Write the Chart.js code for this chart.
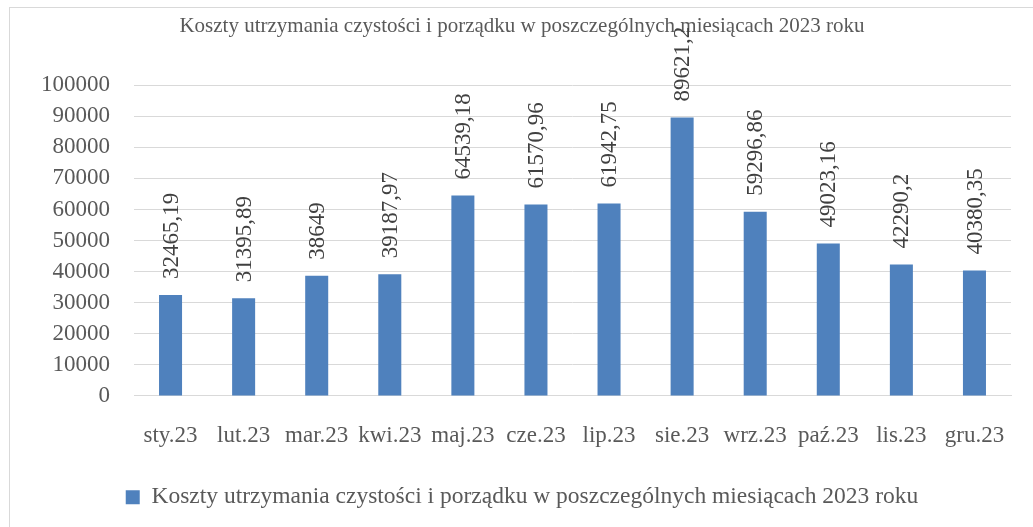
<!DOCTYPE html>
<html>
<head>
<meta charset="utf-8">
<script src="https://cdn.jsdelivr.net/npm/chart.js@4.4.0/dist/chart.umd.min.js"></script>
<style>
  html, body { margin: 0; padding: 0; background: #fff; }
  #wrap { width: 1033px; height: 527px; }
</style>
</head>
<body>
<div id="wrap"><canvas id="myChart"></canvas></div>
<script>
var title = 'Koszty utrzymania czystości i porządku w poszczególnych miesiącach 2023 roku'
var months = ['sty.23', 'lut.23', 'mar.23', 'kwi.23', 'maj.23', 'cze.23', 'lip.23', 'sie.23', 'wrz.23', 'paź.23', 'lis.23', 'gru.23']
var costs = [32465.19, 31395.89, 38649, 39187.97, 64539.18, 61570.96, 61942.75, 89621.2, 59296.86, 49023.16, 42290.2, 40380.35]
var yTicks = [0, 10000, 20000, 30000, 40000, 50000, 60000, 70000, 80000, 90000, 100000]

var serif = '"Liberation Serif", "Times New Roman", serif'

// value labels, rotated, above each bar
var barLabels = {
    id: 'barLabels',
    afterDatasetsDraw: function(chart) {
        var ctx = chart.ctx
        var meta = chart.getDatasetMeta(0)
        ctx.save()
        ctx.font = '23px ' + serif
        ctx.fillStyle = '#404040'
        ctx.textAlign = 'left'
        ctx.textBaseline = 'middle'
        meta.data.forEach(function(bar, i) {
            var txt = String(costs[i]).replace('.', ',')
            ctx.save()
            ctx.translate(bar.x, bar.y - 16)
            ctx.rotate(-Math.PI / 2)
            ctx.fillText(txt, 0, 1)
            ctx.restore()
        })
        ctx.restore()
    }
}

var frame = {
    id: 'frame',
    beforeDraw: function(chart) {
        var ctx = chart.ctx
        ctx.save()
        ctx.strokeStyle = '#d9d9d9'
        ctx.lineWidth = 1
        ctx.strokeRect(9.5, 7.5, 1040, 540)
        ctx.restore()
    }
}

var ctx = document.getElementById('myChart').getContext('2d');
var myChart = new Chart(ctx, {
    type: 'bar',
    data: {
        labels: months,
        datasets: [{
            label: title,
            data: costs,
            backgroundColor: '#4F81BD',
            borderWidth: 0,
            barPercentage: 0.315,
            categoryPercentage: 1
        }]
    },
    plugins: [frame, barLabels],
    options: {
        responsive: true,
        maintainAspectRatio: false,
        animation: false,
        layout: {
            padding: { left: 33, right: 22, top: 0, bottom: 8 }
        },
        plugins: {
            title: {
                display: true,
                text: title,
                color: '#595959',
                font: { family: serif, size: 21, weight: 'normal' },
                padding: { top: 14, bottom: 46 }
            },
            legend: {
                position: 'bottom',
                labels: {
                    color: '#595959',
                    boxWidth: 14,
                    boxHeight: 14,
                    padding: 10,
                    font: { family: serif, size: 23.5 }
                }
            },
            tooltip: { enabled: false }
        },
        scales: {
            x: {
                grid: { display: false, drawTicks: false },
                border: { color: '#d9d9d9', width: 1 },
                ticks: {
                    color: '#595959',
                    padding: 26,
                    maxRotation: 0,
                    autoSkip: false,
                    font: { family: serif, size: 23 }
                }
            },
            y: {
                min: 0,
                max: 100000,
                afterFit: function(scale) { scale.width = 101 },
                afterBuildTicks: function(scale) {
                    scale.ticks = yTicks.map(function(v) { return { value: v } })
                },
                grid: { color: '#d9d9d9', drawTicks: false },
                border: { display: false },
                ticks: {
                    color: '#595959',
                    padding: 24,
                    font: { family: serif, size: 23 },
                    callback: function(v) { return String(v) }
                }
            }
        }
    }
});
</script>
</body>
</html>
